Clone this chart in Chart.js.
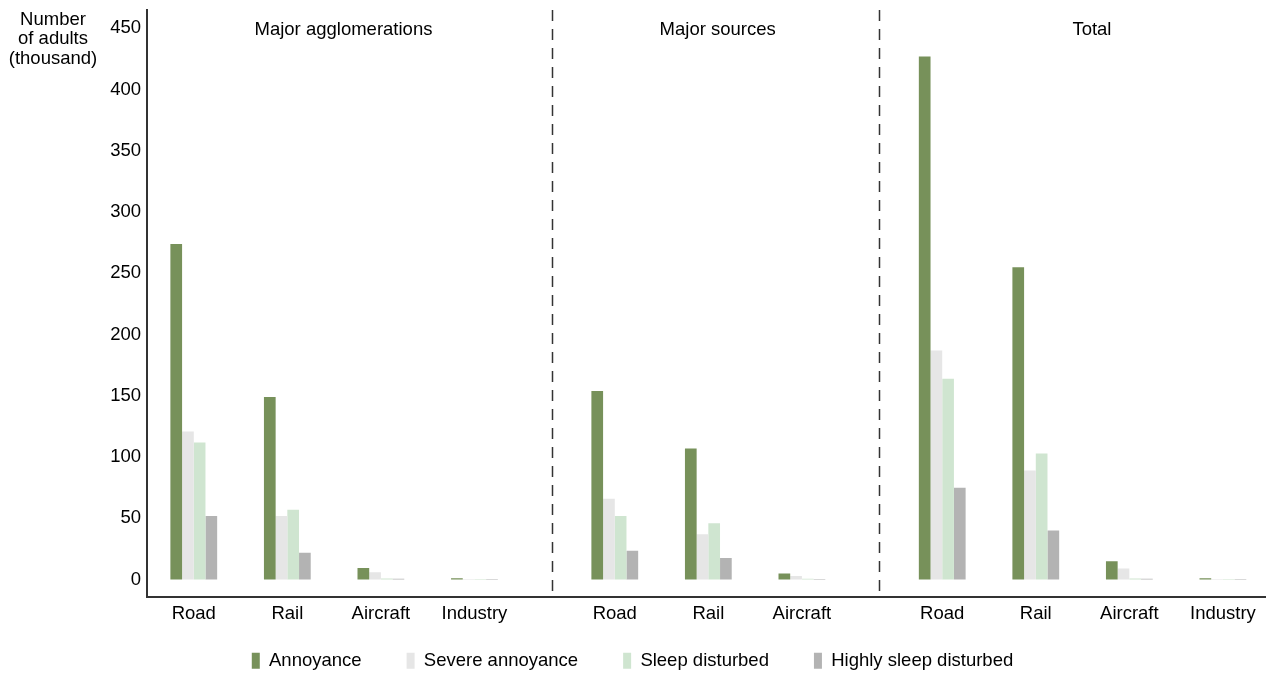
<!DOCTYPE html>
<html>
<head>
<meta charset="utf-8">
<title>Number of adults affected by noise</title>
<script src="https://cdn.jsdelivr.net/npm/chart.js@4/dist/chart.umd.min.js"></script>
<style>
  html, body { margin: 0; padding: 0; background: #fff; }
  #wrap { width: 1269px; height: 675px; position: relative; }
</style>
</head>
<body>
<div id="wrap"><canvas id="noise-chart"></canvas></div>
<script>
// --- data (thousand adults) ---
const groupTitles = ['Major agglomerations', 'Major sources', 'Total'];
const groupCategories = [
  ['Road', 'Rail', 'Aircraft', 'Industry'],
  ['Road', 'Rail', 'Aircraft'],
  ['Road', 'Rail', 'Aircraft', 'Industry']
];
const seriesNames = ['Annoyance', 'Severe annoyance', 'Sleep disturbed', 'Highly sleep disturbed'];
const annoyance       = [274, 149, 9.5, 1.2, 154, 107, 5,   427, 255, 15,  1.2];
const severeAnnoyance = [121, 52,  6,   0.5, 66,  37,  3,   187, 89,  9,   0.5];
const sleepDisturbed  = [112, 57,  0.8, 0.5, 52,  46,  0.6, 164, 103, 0.9, 0.5];
const highlySleepDist = [52,  22,  0.6, 0.5, 23.6, 17.7, 0.5, 75, 40, 0.7, 0.5];
const yTicks = [0, 50, 100, 150, 200, 250, 300, 350, 400, 450];
const yTitleLines = ['Number', 'of adults', '(thousand)'];

const colors = ['#77915a', '#e6e6e6', '#cfe5d0', '#b3b3b3'];
const FONT = "'Liberation Sans', Arial, sans-serif";
const FSIZE = 18.5;

// slot positions on the x scale: one unit per category, a wider gap between groups
const GROUP_GAP = 1.5;
const xPos = [], xLabels = [], groupSpans = [];
let pos = 0;
groupCategories.forEach(cats => {
  const start = pos;
  cats.forEach(c => { xPos.push(pos); xLabels.push(c); pos += 1; });
  groupSpans.push([start, pos - 1]);
  pos += GROUP_GAP - 1;
});

const allSeries = [annoyance, severeAnnoyance, sleepDisturbed, highlySleepDist];

Chart.defaults.font.family = FONT;
Chart.defaults.font.size = FSIZE;
Chart.defaults.color = '#000';

// dashed dividers, group titles and the y axis caption
const decorations = {
  id: 'decorations',
  afterLayout(chart) {
    // let the x labels hang below the (thin) axis box without being clipped
    chart.scales.x.bottom = chart.height;
  },
  afterDatasetsDraw(chart) {
    const {ctx, chartArea, scales: {x}} = chart;
    ctx.save();
    ctx.strokeStyle = '#333';
    ctx.lineWidth = 1.5;
    ctx.setLineDash([11, 8]);
    for (let g = 0; g < groupSpans.length - 1; g++) {
      const px = Math.round(x.getPixelForValue(groupSpans[g][1] + GROUP_GAP * 0.55)) + 0.5;
      ctx.beginPath();
      ctx.moveTo(px, chartArea.top);
      ctx.lineTo(px, chartArea.bottom);
      ctx.stroke();
    }
    ctx.setLineDash([]);
    ctx.fillStyle = '#000';
    ctx.font = FSIZE + 'px ' + FONT;
    ctx.textAlign = 'center';
    ctx.textBaseline = 'middle';
    groupTitles.forEach((t, g) => {
      const mid = (groupSpans[g][0] + groupSpans[g][1]) / 2 + 0.1;
      ctx.fillText(t, x.getPixelForValue(mid), chartArea.top + 20);
    });
    yTitleLines.forEach((line, i) => {
      ctx.fillText(line, 53, 19.5 + i * 19.5);
    });
    ctx.restore();
  }
};

new Chart(document.getElementById('noise-chart'), {
  type: 'bar',
  data: {
    datasets: seriesNames.map((name, s) => ({
      label: name,
      data: allSeries[s].map((v, i) => ({x: xPos[i], y: v})),
      backgroundColor: colors[s],
      borderWidth: 0,
      categoryPercentage: 0.5,
      barPercentage: 1.0
    }))
  },
  options: {
    responsive: true,
    maintainAspectRatio: false,
    animation: false,
    layout: { padding: { top: 10, right: 4, left: 0, bottom: -5 } },
    scales: {
      x: {
        type: 'linear',
        offset: false,
        min: -0.5,
        max: 11.45,
        grid: { display: false, drawTicks: false },
        border: { display: true, color: '#333', width: 2 },
        afterBuildTicks: scale => { scale.ticks = xPos.map(v => ({value: v})); },
        afterFit: scale => { scale.height = 9.75; scale.paddingLeft = 0; scale.paddingRight = 0; },
        ticks: {
          autoSkip: false,
          maxRotation: 0,
          padding: 6,
          callback: v => { const i = xPos.indexOf(v); return i >= 0 ? xLabels[i] : ''; }
        }
      },
      y: {
        min: -14,
        max: 465,
        grid: { display: false, drawTicks: false },
        border: { display: true, color: '#333', width: 2 },
        afterBuildTicks: scale => { scale.ticks = yTicks.map(v => ({value: v})); },
        afterFit: scale => { scale.width = 147; scale.paddingTop = 0; scale.paddingBottom = 0; },
        ticks: { padding: 6 }
      }
    },
    plugins: {
      legend: {
        position: 'bottom',
        labels: { boxWidth: 8, boxHeight: 16, padding: 45, color: '#000' }
      },
      tooltip: { enabled: false },
      title: { display: false }
    }
  },
  plugins: [decorations]
});
</script>
</body>
</html>
